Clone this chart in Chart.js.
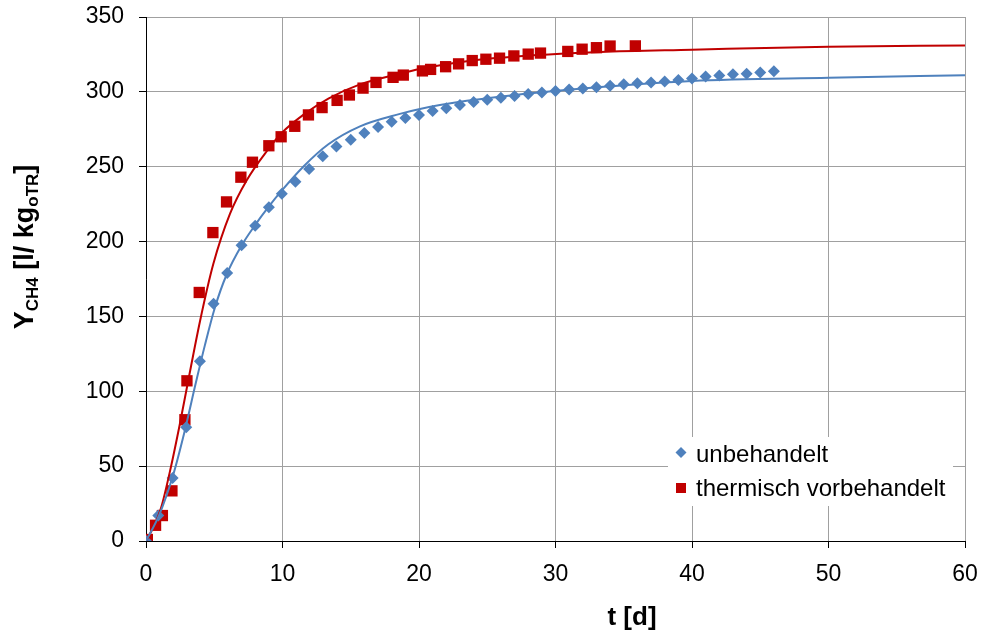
<!DOCTYPE html>
<html>
<head>
<meta charset="utf-8">
<script src="https://cdn.jsdelivr.net/npm/chart.js@4/dist/chart.umd.min.js"></script>
<style>
  html, body { margin: 0; padding: 0; background: #fff; }
  #c { display: block; }
</style>
</head>
<body>
<canvas id="c" width="983" height="634"></canvas>
<script>
// ---- data ----
const seriesNames = ["unbehandelt", "thermisch vorbehandelt"];

// measured points: untreated (diamonds)
const blueT = [0, 0.9, 1.95, 2.95, 3.95, 4.95, 5.95, 7.0, 8.0, 9.0, 9.95, 10.95, 11.95, 12.95, 13.95, 15.0, 16.0, 17.0, 18.0, 19.0, 20.0, 21.0, 22.0, 23.0, 24.0, 25.0, 26.0, 27.0, 28.0, 29.0, 30.0, 31.0, 32.0, 33.0, 34.0, 35.0, 36.0, 37.0, 38.0, 39.0, 40.0, 41.0, 42.0, 43.0, 44.0, 45.0, 46.0];
const blueY = [0, 17, 42, 76, 120, 158.5, 179, 197.5, 210.5, 223, 232, 240, 248.5, 257, 263.5, 268, 272.5, 276.5, 280, 282.5, 284.6, 287.2, 289, 291.3, 293.3, 294.7, 296.1, 297.3, 298.5, 299.6, 300.6, 301.5, 302.3, 303.1, 304, 305, 305.7, 306.2, 307, 307.9, 309, 310.2, 310.9, 311.7, 312.1, 313, 313.7];

// measured points: thermally pretreated (squares)
const redT = [0.1, 0.7, 1.2, 1.9, 2.85, 3.0, 3.9, 4.9, 5.9, 6.95, 7.8, 9.0, 9.9, 10.9, 11.9, 12.9, 14.0, 14.9, 15.9, 16.85, 18.1, 18.85, 20.25, 20.85, 21.95, 22.9, 23.9, 24.9, 25.9, 26.95, 28.0, 28.9, 30.9, 31.95, 33.0, 34.0, 35.85];
const redY = [1, 10.5, 17, 33.5, 81, 107, 166, 206, 226.5, 243, 253, 264, 270, 277, 284.6, 289.5, 294.3, 297.9, 302.5, 306.3, 309.7, 311.2, 314, 315, 316.8, 318.7, 320.9, 321.8, 322.5, 324, 325.2, 325.9, 327, 328.5, 329.5, 330.6, 330.7];

// fitted curves
const blueCurveT = [0, 0.97, 1.96, 2.8, 3.66, 4.32, 5.05, 5.91, 7.01, 7.99, 8.96, 9.94, 11.52, 13.36, 15.68, 18.6, 20.07, 23.5, 28.4, 33.3, 40, 50, 60];
const blueCurveY = [0, 17.4, 43.2, 72.2, 106, 131, 156, 178, 197.5, 211, 223, 234, 250, 265, 277, 285.3, 288.6, 294, 299.3, 303.3, 307.3, 309.4, 311.1];

const redCurveT = [0, 0.5, 1.1, 1.83, 2.44, 3.05, 3.96, 4.93, 6.15, 7.38, 8.9, 9.94, 11.52, 13.36, 15.68, 18.6, 20.07, 23.5, 28.4, 33.3, 40, 50, 60];
const redCurveY = [0, 8.5, 22, 49.6, 76.3, 105, 147, 185, 218.5, 241, 261, 272.5, 284.6, 295.5, 305, 312.2, 315.3, 320.5, 324.4, 326.7, 328.2, 330.2, 330.9];

const xTicks = [0, 10, 20, 30, 40, 50, 60];
const yTicks = [0, 50, 100, 150, 200, 250, 300, 350];

const BLUE = "#4F81BD";
const RED = "#C00000";
const FONT = "'Liberation Sans', Arial, sans-serif";

const pts = (xs, ys) => xs.map((x, i) => ({ x: x, y: ys[i] }));

const titlesPlugin = {
  id: "titles",
  afterDraw(chart) {
    const ctx = chart.ctx;
    ctx.save();
    ctx.fillStyle = "#000";
    // x title
    ctx.font = "bold 26px " + FONT;
    ctx.textAlign = "center";
    ctx.textBaseline = "middle";
    ctx.fillText("t [d]", 632, 618);

    // y title with subscripts, rotated
    const parts = [
      { t: "Y", f: "bold 27px " + FONT, dy: 0 },
      { t: "CH4", f: "bold 17px " + FONT, dy: 5 },
      { t: " [l/ kg", f: "bold 27px " + FONT, dy: 0 },
      { t: "oTR", f: "bold 17px " + FONT, dy: 5 },
      { t: "]", f: "bold 27px " + FONT, dy: 0 }
    ];
    let total = 0;
    parts.forEach(p => { ctx.font = p.f; p.w = ctx.measureText(p.t).width; total += p.w; });
    ctx.translate(33, 247);
    ctx.rotate(-Math.PI / 2);
    ctx.textAlign = "left";
    ctx.textBaseline = "alphabetic";
    let x = -total / 2;
    parts.forEach(p => { ctx.font = p.f; ctx.fillText(p.t, x, p.dy); x += p.w; });
    ctx.restore();
  }
};

const legendPlugin = {
  id: "boxLegend",
  afterDatasetsDraw(chart) {
    const ctx = chart.ctx;
    ctx.save();
    ctx.fillStyle = "#fff";
    ctx.fillRect(668, 437, 285, 69);
    // diamond
    ctx.fillStyle = BLUE;
    ctx.beginPath();
    ctx.moveTo(681, 447); ctx.lineTo(686.5, 452.5); ctx.lineTo(681, 458); ctx.lineTo(675.5, 452.5);
    ctx.closePath(); ctx.fill();
    // square
    ctx.fillStyle = RED;
    ctx.fillRect(676, 483, 10, 10);
    ctx.fillStyle = "#000";
    ctx.font = "24px " + FONT;
    ctx.textAlign = "left";
    ctx.textBaseline = "middle";
    ctx.fillText(seriesNames[0], 696, 455);
    ctx.fillText(seriesNames[1], 696, 489);
    ctx.restore();
  }
};

function zeroPad(s) {
  s.paddingTop = 0; s.paddingBottom = 0; s.paddingLeft = 0; s.paddingRight = 0;
}

new Chart(document.getElementById("c"), {
  type: "scatter",
  data: {
    datasets: [
      {
        label: seriesNames[0] + " (Modell)",
        data: pts(blueCurveT, blueCurveY),
        showLine: true, borderColor: BLUE, borderWidth: 2,
        pointRadius: 0, cubicInterpolationMode: "monotone", fill: false, order: 1
      },
      {
        label: seriesNames[1] + " (Modell)",
        data: pts(redCurveT, redCurveY),
        showLine: true, borderColor: RED, borderWidth: 2,
        pointRadius: 0, cubicInterpolationMode: "monotone", fill: false, order: 1
      },
      {
        label: seriesNames[0],
        data: pts(blueT, blueY),
        showLine: false, pointStyle: "rectRot", pointRadius: 6,
        backgroundColor: BLUE, borderColor: BLUE, borderWidth: 0, order: 2
      },
      {
        label: seriesNames[1],
        data: pts(redT, redY),
        showLine: false, pointStyle: "rect", pointRadius: 8,
        backgroundColor: RED, borderColor: RED, borderWidth: 0, order: 2
      }
    ]
  },
  options: {
    responsive: false,
    animation: false,
    devicePixelRatio: 1,
    layout: { padding: { left: 0, right: 18, top: 17, bottom: 0 } },
    plugins: { legend: { display: false }, tooltip: { enabled: false } },
    scales: {
      x: {
        type: "linear", min: 0, max: 60,
        afterBuildTicks(s) { s.ticks = xTicks.map(v => ({ value: v })); },
        afterFit(s) { s.height = 93; zeroPad(s); },
        ticks: { color: "#000", font: { family: FONT, size: 23 }, padding: 13, maxRotation: 0 },
        grid: { color: "#A0A0A0", lineWidth: 1, tickColor: "#000", tickLength: 7 },
        border: { color: "#000", width: 1 }
      },
      y: {
        type: "linear", min: 0, max: 350,
        afterBuildTicks(s) { s.ticks = yTicks.map(v => ({ value: v })); },
        afterFit(s) { s.width = 146; zeroPad(s); },
        ticks: { color: "#000", font: { family: FONT, size: 23 }, padding: 15 },
        grid: { color: "#A0A0A0", lineWidth: 1, tickColor: "#000", tickLength: 7 },
        border: { color: "#000", width: 1 }
      }
    }
  },
  plugins: [legendPlugin, titlesPlugin]
});
</script>
</body>
</html>
